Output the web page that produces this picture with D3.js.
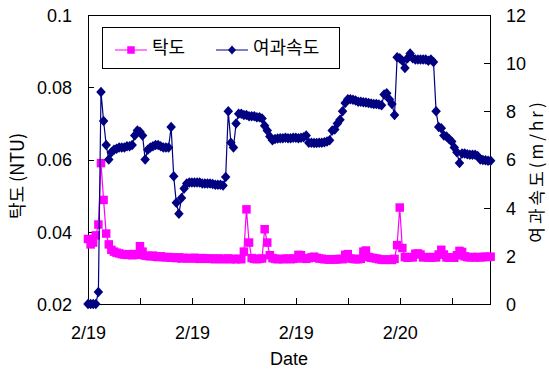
<!DOCTYPE html>
<html>
<head>
<meta charset="utf-8">
<script src="https://cdn.jsdelivr.net/npm/d3@7"></script>
<style>
  html, body { margin: 0; padding: 0; background: #fff; }
  svg { display: block; }
  .tick text { font-family: "Liberation Sans", Arial, sans-serif; font-size: 18px; fill: #000; }
</style>
</head>
<body>
<svg id="chart" width="549" height="369"></svg>
<script>
// Sampling: one reading every 12 minutes starting 2/19 00:00
const sampleStart = new Date(2009, 1, 19, 0, 0);
const sampleMinutes = 12;
const axisEnd = new Date(2009, 1, 20, 6, 57);

// 탁도 (NTU), left axis
const turbidity = [
  0.038, 0.0365, 0.037, 0.039, 0.042, 0.059, 0.0488, 0.0395, 0.0365, 0.035,
  0.0345, 0.0342, 0.034, 0.0338, 0.0337, 0.0336, 0.0338, 0.0335, 0.0338, 0.0336,
  0.036, 0.0345, 0.0334, 0.0333, 0.0332, 0.0334, 0.0331, 0.033, 0.0332, 0.033,
  0.0329, 0.033, 0.0328, 0.0329, 0.0327, 0.0329, 0.0326, 0.0328, 0.0327, 0.0326,
  0.0327, 0.0328, 0.0326, 0.0325, 0.0327, 0.0326, 0.0325, 0.0326, 0.0325, 0.0324,
  0.0326, 0.0325, 0.0324, 0.0325, 0.0326, 0.0324, 0.0325, 0.0324, 0.0325, 0.0324,
  0.0345, 0.0462, 0.037, 0.0327, 0.0325, 0.0324, 0.0325, 0.0326, 0.0407, 0.037,
  0.0335, 0.0327, 0.0325, 0.0324, 0.0325, 0.0324, 0.0325, 0.0326, 0.0324, 0.0325,
  0.0326, 0.0336, 0.0335, 0.0326, 0.0325, 0.0327, 0.0329, 0.0331, 0.0328, 0.0326,
  0.0325, 0.0324, 0.0324, 0.0323, 0.0324, 0.0323, 0.0324, 0.0325, 0.0324, 0.0336,
  0.0338, 0.0326, 0.0325, 0.0324, 0.0324, 0.0325, 0.0345, 0.0348, 0.033, 0.0328,
  0.0327, 0.0326, 0.0324, 0.0323, 0.0322, 0.0323, 0.0323, 0.0322, 0.0325, 0.0363,
  0.0467, 0.0355, 0.033, 0.0328, 0.033, 0.0329, 0.0339, 0.034, 0.0337, 0.0329,
  0.033, 0.0329, 0.0328, 0.033, 0.0329, 0.0337, 0.035, 0.0337, 0.0329, 0.0328,
  0.0329, 0.0328, 0.0335, 0.0347, 0.0344, 0.0332, 0.033, 0.0329, 0.033, 0.0329,
  0.033, 0.0329, 0.033, 0.0331, 0.033, 0.0331
];

// 여과속도 (m/hr), right axis
const filtrationRate = [
  0, 0, 0, 0, 0.5, 8.8, 7.6, 6.6, 6.0, 6.3,
  6.4, 6.45, 6.5, 6.5, 6.5, 6.55, 6.55, 6.6, 7.0, 7.2,
  7.15, 7.0, 6.0, 6.4, 6.5, 6.55, 6.6, 6.6, 6.55, 6.5,
  6.5, 6.5, 7.35, 5.3, 4.2, 3.75, 4.4, 4.8, 5.0, 5.05,
  5.05, 5.05, 5.05, 5.05, 5.0, 5.0, 5.0, 5.0, 4.98, 4.95,
  4.95, 4.95, 4.92, 5.27, 8.0, 6.7, 6.5, 7.5, 7.9, 7.9,
  7.85, 7.85, 7.8, 7.8, 7.8, 7.75, 7.75, 7.7, 7.4, 7.2,
  6.95, 6.8, 6.85, 6.87, 6.88, 6.88, 6.9, 6.88, 6.88, 6.9,
  6.9, 6.88, 6.9, 6.92, 7.0, 6.7, 6.7, 6.68, 6.68, 6.7,
  6.7, 6.72, 6.75, 6.8, 7.2, 7.25, 7.5, 7.65, 8.0, 8.35,
  8.5, 8.5, 8.48, 8.45, 8.4, 8.4, 8.38, 8.37, 8.35, 8.33,
  8.3, 8.3, 8.28, 8.25, 8.7, 8.75, 8.5, 8.3, 7.85, 10.25,
  10.2, 10.1, 9.8, 10.2, 10.4, 10.2, 10.15, 10.15, 10.15, 10.15,
  10.15, 10.1, 10.15, 10.05, 8.0, 7.35, 7.3, 7.0, 6.95, 6.85,
  6.75, 6.5, 6.3, 5.85, 6.25, 6.25, 6.22, 6.2, 6.2, 6.2,
  6.15, 6.0, 5.98, 5.97, 5.95, 5.95
];

const leftTicks = [0.02, 0.04, 0.06, 0.08, 0.1];
const rightTicks = [0, 2, 4, 6, 8, 10, 12];
const seriesNames = ["탁도", "여과속도"];
const leftTitle = "탁도 (NTU)";
const rightTitle = "여과속도(m/hr)";
const xTitle = "Date";

const turbColor = "#ff00ff";
const rateColor = "#000080";

const plot = { left: 88, top: 15, right: 490, bottom: 304 };
const svg = d3.select("#chart");

const times = turbidity.map((_, i) => d3.timeMinute.offset(sampleStart, i * sampleMinutes));

const x = d3.scaleTime().domain([sampleStart, axisEnd]).range([plot.left, plot.right]);
const yL = d3.scaleLinear().domain([0.02, 0.1]).range([plot.bottom, plot.top]);
const yR = d3.scaleLinear().domain([0, 12]).range([plot.bottom, plot.top]);

// Frame
svg.append("rect")
  .attr("x", plot.left).attr("y", plot.top)
  .attr("width", plot.right - plot.left).attr("height", plot.bottom - plot.top)
  .attr("fill", "none").attr("stroke", "#000").attr("stroke-width", 1)
  .attr("shape-rendering", "crispEdges");

// Axes (ticks point into the plot)
const fmtDay = d3.timeFormat("%-m/%-d");
const xAxis = d3.axisBottom(x)
  .ticks(d3.timeHour.every(4))
  .tickSizeInner(-6).tickSizeOuter(0)
  .tickFormat(d => (d.getHours() % 8 === 0 ? fmtDay(d) : ""));
const gx = svg.append("g").attr("transform", `translate(0,${plot.bottom})`).call(xAxis);
gx.selectAll(".tick text").attr("y", 22).attr("dy", "0.71em");

const gl = svg.append("g").attr("transform", `translate(${plot.left},0)`)
  .call(d3.axisLeft(yL).tickValues(leftTicks).tickSizeInner(-6).tickSizeOuter(0)
    .tickFormat(d => d3.format("")(+d.toFixed(2))));
gl.selectAll(".tick text").attr("x", -16).attr("dy", "0.36em");

const gr = svg.append("g").attr("transform", `translate(${plot.right},0)`)
  .call(d3.axisRight(yR).tickValues(rightTicks).tickSizeInner(-6).tickSizeOuter(0));
gr.selectAll(".tick text").attr("x", 16).attr("dy", "0.36em");

[gx, gl, gr].forEach(g => {
  g.select(".domain").remove();
  g.selectAll(".tick line").attr("stroke", "#000").attr("shape-rendering", "crispEdges");
});

// Marker shapes
const squarePath = s => `M${-s / 2},${-s / 2}h${s}v${s}h${-s}Z`;
const diamondPath = (w, h) => `M0,${-h / 2}L${w / 2},0L0,${h / 2}L${-w / 2},0Z`;

// 탁도 series
const turbData = turbidity.map((v, i) => ({ t: times[i], v }));
svg.append("path")
  .datum(turbData)
  .attr("fill", "none").attr("stroke", turbColor).attr("stroke-width", 1.2)
  .attr("d", d3.line().x(d => x(d.t)).y(d => yL(d.v)));
svg.append("g").selectAll("path").data(turbData).join("path")
  .attr("transform", d => `translate(${x(d.t)},${yL(d.v)})`)
  .attr("d", squarePath(8.5))
  .attr("fill", turbColor);

// 여과속도 series
const rateData = filtrationRate.map((v, i) => ({ t: times[i], v }));
svg.append("path")
  .datum(rateData)
  .attr("fill", "none").attr("stroke", rateColor).attr("stroke-width", 1.2)
  .attr("d", d3.line().x(d => x(d.t)).y(d => yR(d.v)));
svg.append("g").selectAll("path").data(rateData).join("path")
  .attr("transform", d => `translate(${x(d.t)},${yR(d.v)})`)
  .attr("d", diamondPath(9.5, 10.5))
  .attr("fill", rateColor);

// Legend
const lg = svg.append("g");
lg.append("rect").attr("x", 102.5).attr("y", 27.5).attr("width", 237).attr("height", 41)
  .attr("fill", "#fff").attr("stroke", "#000").attr("stroke-width", 1);
const legendItems = [
  { name: seriesNames[0], color: turbColor, x0: 115, shape: squarePath(7.5) },
  { name: seriesNames[1], color: rateColor, x0: 216, shape: diamondPath(8, 9) }
];
legendItems.forEach(it => {
  lg.append("line").attr("x1", it.x0).attr("x2", it.x0 + 32).attr("y1", 50).attr("y2", 50)
    .attr("stroke", it.color).attr("stroke-width", 1);
  lg.append("path").attr("transform", `translate(${it.x0 + 16},50)`).attr("d", it.shape)
    .attr("fill", it.color);
  lg.append("text").attr("x", it.x0 + 37).attr("y", 48).attr("dy", "0.35em")
    .attr("font-family", "'Noto Sans CJK KR', sans-serif").attr("font-size", 18)
    .text(it.name);
});

// Axis titles
svg.append("text")
  .attr("transform", "translate(18,176) rotate(-90)")
  .attr("text-anchor", "middle").attr("dy", "0.35em")
  .attr("font-family", "'Noto Sans CJK KR', 'Liberation Sans', sans-serif").attr("font-size", 18)
  .text(leftTitle);
svg.append("text")
  .attr("transform", "translate(537,171) rotate(-90)")
  .attr("text-anchor", "middle").attr("dy", "0.35em")
  .attr("font-family", "'Noto Sans CJK KR', 'Liberation Sans', sans-serif").attr("font-size", 17)
  .attr("letter-spacing", 3)
  .text(rightTitle);
svg.append("text")
  .attr("x", 289).attr("y", 365)
  .attr("text-anchor", "middle")
  .attr("font-family", "'Liberation Sans', Arial, sans-serif").attr("font-size", 18)
  .text(xTitle);
</script>
</body>
</html>
